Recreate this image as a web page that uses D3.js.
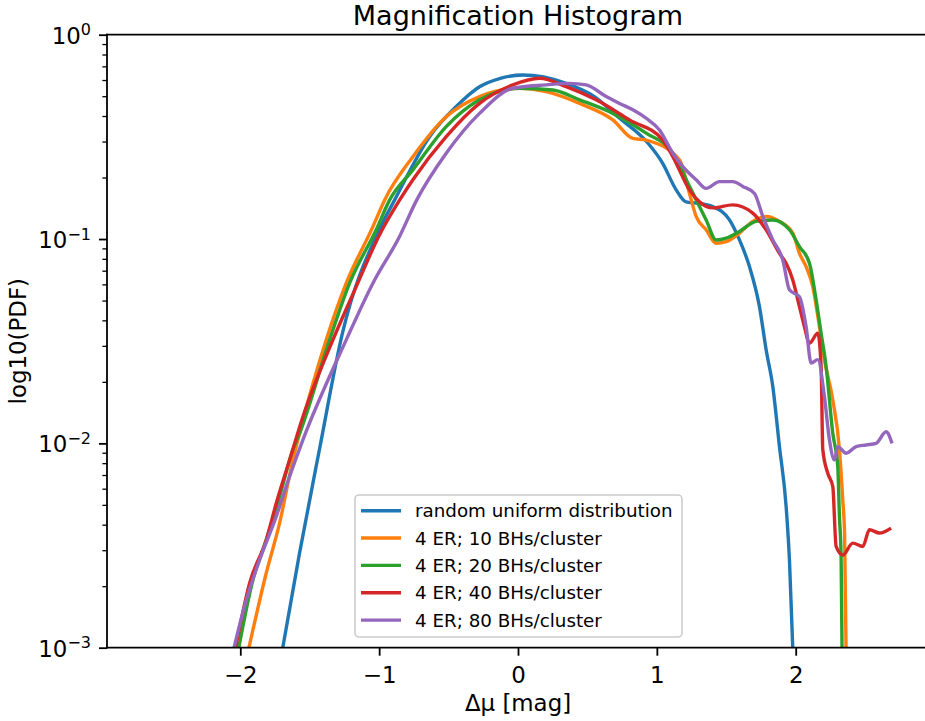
<!DOCTYPE html>
<html>
<head>
<meta charset="utf-8">
<script src="https://cdn.jsdelivr.net/npm/d3@7"></script>
<style>
  html, body { margin: 0; padding: 0; background: #fff; }
  svg { display: block; font-family: "DejaVu Sans", sans-serif; }
</style>
</head>
<body>
<svg id="chart" width="925" height="721"></svg>
<script>
// ---------------- data ----------------
const seriesNames = [
  "random uniform distribution",
  "4 ER; 10 BHs/cluster",
  "4 ER; 20 BHs/cluster",
  "4 ER; 40 BHs/cluster",
  "4 ER; 80 BHs/cluster"
];
const seriesColors = ["#1f77b4", "#ff7f0e", "#2ca02c", "#d62728", "#9467bd"];

const xRandom = [-1.70, -1.573, -1.43, -1.264, -0.997, -0.889, -0.637, -0.445, -0.277, -0.133, 0.035, 0.347, 0.55, 0.73, 0.935, 1.04, 1.139, 1.21, 1.283, 1.403, 1.523, 1.595, 1.667, 1.739, 1.787, 1.835, 1.883, 1.931, 1.955, 1.98];
const pdfRandom = [0.00095, 0.00291, 0.00933, 0.0347, 0.112, 0.155, 0.317, 0.445, 0.556, 0.610, 0.635, 0.578, 0.498, 0.391, 0.295, 0.236, 0.174, 0.152, 0.150, 0.144, 0.124, 0.099, 0.0733, 0.0467, 0.0287, 0.019, 0.00964, 0.00491, 0.00269, 0.00095];

const x10 = [-1.945, -1.813, -1.717, -1.621, -1.595, -1.381, -1.237, -1.045, -0.961, -0.757, -0.517, -0.277, 0.011, 0.203, 0.443, 0.683, 0.827, 0.923, 1.163, 1.235, 1.283, 1.355, 1.427, 1.499, 1.595, 1.691, 1.787, 1.883, 1.979, 2.027, 2.075, 2.123, 2.171, 2.207, 2.267, 2.315, 2.339, 2.352, 2.363];
const pdf10 = [0.00095, 0.00232, 0.00407, 0.0083, 0.0098, 0.0321, 0.0608, 0.115, 0.155, 0.253, 0.397, 0.498, 0.547, 0.526, 0.461, 0.383, 0.311, 0.305, 0.244, 0.167, 0.129, 0.111, 0.0953, 0.097, 0.107, 0.122, 0.129, 0.122, 0.107, 0.0851, 0.0733, 0.0585, 0.0372, 0.0257, 0.0163, 0.00933, 0.00528, 0.0036, 0.00095];

const x20 = [-2.017, -1.909, -1.813, -1.717, -1.621, -1.573, -1.357, -1.213, -1.021, -0.925, -0.757, -0.517, -0.277, 0.011, 0.251, 0.443, 0.683, 0.923, 1.115, 1.235, 1.355, 1.427, 1.499, 1.595, 1.715, 1.835, 1.955, 2.027, 2.099, 2.147, 2.183, 2.219, 2.267, 2.303, 2.315, 2.327, 2.334];
const pdf20 = [0.00095, 0.00215, 0.00337, 0.0055, 0.00933, 0.0112, 0.0321, 0.0608, 0.111, 0.155, 0.218, 0.355, 0.48, 0.547, 0.536, 0.48, 0.412, 0.33, 0.263, 0.181, 0.124, 0.099, 0.101, 0.109, 0.122, 0.124, 0.111, 0.0918, 0.0762, 0.0504, 0.0346, 0.0238, 0.0112, 0.0077, 0.00439, 0.00279, 0.00095];

const x40 = [-2.04, -1.933, -1.813, -1.741, -1.645, -1.549, -1.333, -1.165, -0.997, -0.853, -0.757, -0.517, -0.277, -0.037, 0.155, 0.347, 0.563, 0.803, 1.043, 1.115, 1.235, 1.307, 1.403, 1.547, 1.691, 1.787, 1.883, 1.931, 1.979, 2.027, 2.063, 2.099, 2.159, 2.183, 2.195, 2.231, 2.267, 2.291, 2.339, 2.411, 2.483, 2.531, 2.603, 2.687];
const pdf40 = [0.00095, 0.00207, 0.00337, 0.00509, 0.0083, 0.0135, 0.0321, 0.0585, 0.105, 0.155, 0.195, 0.317, 0.461, 0.568, 0.612, 0.557, 0.48, 0.383, 0.305, 0.253, 0.174, 0.152, 0.142, 0.147, 0.134, 0.111, 0.0851, 0.0762, 0.0631, 0.0467, 0.0372, 0.0309, 0.0346, 0.0238, 0.00933, 0.00714, 0.00615, 0.00313, 0.00284, 0.00325, 0.00313, 0.00378, 0.00364, 0.00385];

const x80 = [-2.053, -1.957, -1.861, -1.741, -1.645, -1.549, -1.237, -1.045, -0.853, -0.73, -0.517, -0.277, -0.037, 0.203, 0.371, 0.491, 0.635, 0.731, 0.827, 0.923, 1.019, 1.115, 1.187, 1.283, 1.355, 1.451, 1.547, 1.619, 1.703, 1.763, 1.835, 1.907, 1.955, 2.027, 2.075, 2.111, 2.159, 2.207, 2.243, 2.279, 2.303, 2.363, 2.435, 2.507, 2.579, 2.651, 2.694];
const pdf80 = [0.00095, 0.00171, 0.00269, 0.00439, 0.00689, 0.0104, 0.0321, 0.0608, 0.103, 0.155, 0.263, 0.412, 0.547, 0.568, 0.578, 0.568, 0.498, 0.461, 0.429, 0.39, 0.342, 0.263, 0.226, 0.195, 0.177, 0.191, 0.191, 0.181, 0.167, 0.129, 0.099, 0.079, 0.0564, 0.0522, 0.0372, 0.0247, 0.0257, 0.0169, 0.0104, 0.0083, 0.00964, 0.00895, 0.00964, 0.00982, 0.01, 0.0114, 0.01];

const xTickValues = [-2, -1, 0, 1, 2];
const yTickValues = [1e-3, 1e-2, 1e-1, 1];
const yTickExponents = ["−3", "−2", "−1", "0"];
const titleText = "Magnification Histogram";
const xLabelText = "Δμ [mag]";
const yLabelText = "log10(PDF)";

// ---------------- layout ----------------
const svg = d3.select("#chart");
const L = 107, R = 929, T = 34.7, B = 647.7;

const x = d3.scaleLinear().domain([-2.96, 2.96]).range([L, R]);
const y = d3.scaleLog().domain([1e-3, 1]).range([B, T]);

const seriesX = [xRandom, x10, x20, x40, x80];
const seriesY = [pdfRandom, pdf10, pdf20, pdf40, pdf80];
const series = seriesNames.map((name, i) => ({
  name, color: seriesColors[i],
  pts: d3.zip(seriesX[i], seriesY[i])
}));

svg.append("defs").append("clipPath").attr("id", "plotclip")
  .append("rect").attr("x", L).attr("y", T).attr("width", R - L).attr("height", B - T);

const line = d3.line().curve(d3.curveMonotoneX).x(d => x(d[0])).y(d => y(d[1]));
const gLines = svg.append("g").attr("clip-path", "url(#plotclip)");
series.forEach(s => {
  gLines.append("path").attr("d", line(s.pts))
    .attr("fill", "none").attr("stroke", s.color)
    .attr("stroke-width", 3.4).attr("stroke-linejoin", "round").attr("stroke-linecap", "butt");
});

// x axis
const xAxis = svg.append("g").attr("transform", `translate(0,${B})`)
  .call(d3.axisBottom(x).tickValues(xTickValues).tickSize(8).tickPadding(8)
    .tickFormat(d => d < 0 ? "−" + Math.abs(d) : String(d)));
xAxis.select(".domain").remove();
xAxis.selectAll(".tick line").attr("stroke", "#000").attr("stroke-width", 1.8);
xAxis.selectAll(".tick text").attr("font-size", 22.9).attr("fill", "#000")
  .attr("font-family", "DejaVu Sans").attr("dy", null).attr("y", 35);

// y axis major
const yAxis = svg.append("g").attr("transform", `translate(${L},0)`)
  .call(d3.axisLeft(y).tickValues(yTickValues).tickSize(8).tickFormat(""));
yAxis.select(".domain").remove();
yAxis.selectAll(".tick line").attr("stroke", "#000").attr("stroke-width", 1.8);
yAxis.selectAll(".tick").each(function(d) {
  const t = d3.select(this).append("text")
    .attr("x", -16).attr("y", 8.6)
    .attr("text-anchor", "end").attr("fill", "#000")
    .attr("font-family", "DejaVu Sans");
  t.append("tspan").attr("font-size", 22.9).text("10");
  t.append("tspan").attr("font-size", 16).attr("dy", -8.5).text(yTickExponents[yTickValues.indexOf(d)]);
});

// y axis minor
const minor = [];
[1e-3, 1e-2, 1e-1].forEach(b => { for (let k = 2; k <= 9; k++) minor.push(b * k); });
const yMinor = svg.append("g").attr("transform", `translate(${L},0)`)
  .call(d3.axisLeft(y).tickValues(minor).tickSize(4.6).tickFormat(""));
yMinor.select(".domain").remove();
yMinor.selectAll(".tick line").attr("stroke", "#000").attr("stroke-width", 1.3);

// spines
svg.append("line").attr("x1", L).attr("x2", L).attr("y1", T).attr("y2", B).attr("stroke", "#000").attr("stroke-width", 1.8).attr("stroke-linecap", "square");
svg.append("line").attr("x1", L).attr("x2", R).attr("y1", T).attr("y2", T).attr("stroke", "#000").attr("stroke-width", 1.8).attr("stroke-linecap", "square");
svg.append("line").attr("x1", L).attr("x2", R).attr("y1", B).attr("y2", B).attr("stroke", "#000").attr("stroke-width", 1.8).attr("stroke-linecap", "square");
svg.append("line").attr("x1", R).attr("x2", R).attr("y1", T).attr("y2", B).attr("stroke", "#000").attr("stroke-width", 1.8);

// title and labels
svg.append("text").attr("x", (L + R) / 2).attr("y", 25.3).attr("text-anchor", "middle")
  .attr("font-size", 27).attr("fill", "#000").text(titleText);
svg.append("text").attr("x", (L + R) / 2).attr("y", 711).attr("text-anchor", "middle")
  .attr("font-size", 22.9).attr("fill", "#000").text(xLabelText);
svg.append("text").attr("transform", `translate(26,${(T + B) / 2}) rotate(-90)`)
  .attr("text-anchor", "middle").attr("font-size", 22.9).attr("fill", "#000").text(yLabelText);

// legend
const lg = svg.append("g");
lg.append("rect").attr("x", 355).attr("y", 495).attr("width", 327).attr("height", 142)
  .attr("rx", 4).attr("fill", "#fff").attr("fill-opacity", 0.8)
  .attr("stroke", "#cccccc").attr("stroke-width", 1.6);
series.forEach((s, i) => {
  const yy = 510.7 + i * 27.35;
  lg.append("line").attr("x1", 361).attr("x2", 401).attr("y1", yy).attr("y2", yy)
    .attr("stroke", s.color).attr("stroke-width", 3.4);
  lg.append("text").attr("x", 415).attr("y", yy + 6.6).attr("font-size", 18.3)
    .attr("fill", "#000").text(s.name);
});
</script>
</body>
</html>
